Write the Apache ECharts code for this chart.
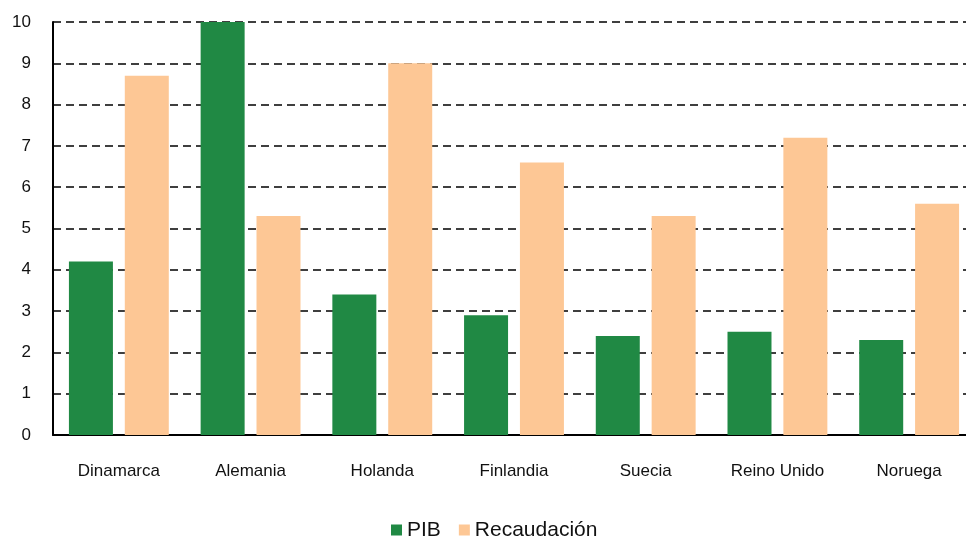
<!DOCTYPE html>
<html>
<head>
<meta charset="utf-8">
<script src="https://cdn.jsdelivr.net/npm/echarts@6/dist/echarts.min.js"></script>
<style>
  html, body { margin: 0; padding: 0; background: #fff; overflow: hidden; }
  #chart { width: 975px; height: 539px; }
</style>
</head>
<body>
<div id="chart"></div>
<script>
const categories = ['Dinamarca', 'Alemania', 'Holanda', 'Finlandia', 'Suecia', 'Reino Unido', 'Noruega']
const pib = [4.2, 10, 3.4, 2.9, 2.4, 2.5, 2.3]
const recaudacion = [8.7, 5.3, 9.0, 6.6, 5.3, 7.2, 5.6]

// chart div is a little wider than the window: the plot runs past the right edge
const chart = echarts.init(document.getElementById('chart'))
const font = '"Liberation Sans", Arial, sans-serif'

chart.setOption({
  animation: false,
  textStyle: { fontFamily: font },
  grid: {
    left: 53,
    right: 0,
    top: 22,
    bottom: 104
  },
  legend: {
    top: 514,
    left: 386,
    itemWidth: 11,
    itemHeight: 11,
    itemGap: 18,
    icon: 'rect',
    textStyle: { fontFamily: font, fontSize: 21, lineHeight: 22, color: '#111' },
    data: ['PIB', 'Recaudación']
  },
  xAxis: {
    type: 'category',
    data: categories,
    axisTick: { show: false },
    axisLine: { lineStyle: { color: '#000', width: 2 } },
    axisLabel: { fontSize: 17, color: '#111', margin: 28 }
  },
  yAxis: {
    type: 'value',
    min: 0,
    max: 10,
    interval: 1,
    axisLine: { show: true, lineStyle: { color: '#000', width: 2 } },
    axisTick: { show: false },
    axisLabel: { fontSize: 17, color: '#111', margin: 22 },
    splitLine: { lineStyle: { color: '#000', type: [8, 5], width: 1.5 } }
  },
  series: [
    {
      name: 'PIB',
      type: 'bar',
      data: pib,
      barWidth: '33.4%',
      barGap: '27%',
      itemStyle: { color: '#208944' }
    },
    {
      name: 'Recaudación',
      type: 'bar',
      data: recaudacion,
      barWidth: '33.4%',
      itemStyle: { color: '#fdc795' }
    }
  ]
})
</script>
</body>
</html>
